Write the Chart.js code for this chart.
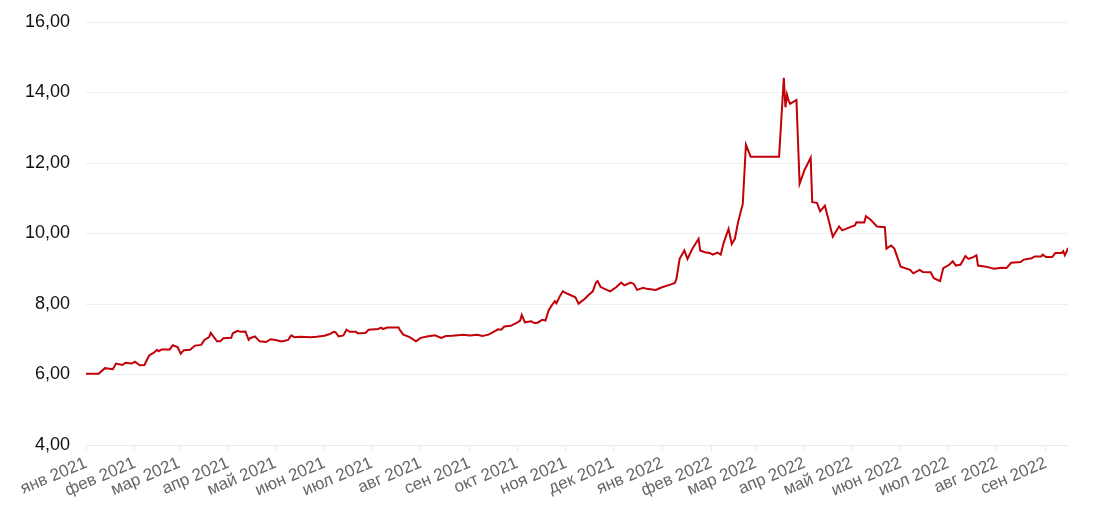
<!DOCTYPE html>
<html>
<head>
<meta charset="utf-8">
<script src="https://cdn.jsdelivr.net/npm/chart.js@4"></script>
<style>
  html, body { margin: 0; padding: 0; background: #fff; }
  #wrap { width: 1100px; height: 521px; }
</style>
</head>
<body>
<div id="wrap"><canvas id="price"></canvas></div>
<script>
// days counted from startDate
var startDate = Date.UTC(2021, 0, 1);
var dayOffsets = [0, 8, 12, 17, 19, 23, 25, 29, 31, 34, 37, 40, 43, 45, 46, 48, 53, 55, 58, 60,
  62, 66, 69, 73, 75, 78, 79, 81, 83, 85, 87, 92, 93, 96, 98, 101, 102, 103, 104, 107,
  110, 114, 117, 120, 124, 128, 130, 132, 136, 142, 146, 151, 154, 157, 158, 160, 163, 165, 167, 171,
  172, 177, 179, 185, 187, 188, 191, 198, 199, 201, 205, 209, 212, 216, 221, 225, 228, 232, 239, 243,
  248, 251, 255, 259, 261, 263, 265, 269, 273, 275, 276, 278, 282, 284, 286, 289, 291, 293, 295, 297,
  298, 300, 302, 305, 310, 312, 316, 318, 321, 323, 324, 326, 332, 336, 339, 341, 345, 347, 349, 353,
  355, 361, 364, 370, 373, 374, 376, 379, 381, 384, 388, 389, 392, 395, 397, 400, 402, 404, 407, 409,
  411, 413, 416, 418, 421, 431, 439, 442, 443, 444, 445, 446, 450, 452, 455, 459, 460, 463, 465, 468,
  470, 473, 477, 479, 484, 487, 488, 493, 494, 497, 501, 506, 507, 510, 512, 516, 522, 524, 528, 530,
  535, 537, 541, 543, 547, 549, 551, 554, 557, 559, 562, 564, 565, 570, 575, 580, 583, 586, 592, 594,
  599, 601, 605, 606, 608, 612, 614, 618, 619, 620, 621, 622];
var prices = [6.02, 6.02, 6.18, 6.15, 6.31, 6.27, 6.33, 6.31, 6.36, 6.26, 6.27, 6.54, 6.62, 6.70, 6.66, 6.71, 6.71, 6.83, 6.78, 6.59,
  6.69, 6.70, 6.82, 6.84, 6.98, 7.06, 7.18, 7.06, 6.94, 6.94, 7.03, 7.04, 7.17, 7.24, 7.21, 7.22, 7.10, 6.98, 7.03, 7.08,
  6.94, 6.92, 7.00, 6.98, 6.94, 6.98, 7.11, 7.06, 7.07, 7.06, 7.07, 7.10, 7.14, 7.21, 7.20, 7.08, 7.11, 7.27, 7.21, 7.21,
  7.17, 7.18, 7.27, 7.29, 7.33, 7.29, 7.33, 7.33, 7.25, 7.13, 7.06, 6.94, 7.04, 7.08, 7.11, 7.04, 7.09, 7.10, 7.13, 7.11,
  7.13, 7.09, 7.13, 7.23, 7.28, 7.27, 7.36, 7.38, 7.47, 7.53, 7.69, 7.48, 7.51, 7.46, 7.47, 7.55, 7.53, 7.82, 7.96, 8.08,
  8.02, 8.21, 8.36, 8.29, 8.19, 8.01, 8.15, 8.24, 8.36, 8.61, 8.65, 8.48, 8.36, 8.48, 8.61, 8.53, 8.61, 8.57, 8.40, 8.46,
  8.43, 8.40, 8.46, 8.55, 8.60, 8.72, 9.28, 9.52, 9.28, 9.56, 9.85, 9.52, 9.47, 9.45, 9.40, 9.46, 9.40, 9.75, 10.13, 9.70,
  9.85, 10.32, 10.84, 12.52, 12.18, 12.18, 12.18, 14.42, 13.58, 13.94, 13.77, 13.68, 13.79, 11.41, 11.79, 12.15, 10.89, 10.87, 10.63, 10.79,
  10.45, 9.91, 10.20, 10.09, 10.18, 10.23, 10.32, 10.31, 10.49, 10.39, 10.20, 10.18, 9.57, 9.66, 9.57, 9.06, 8.97, 8.87, 8.97, 8.91,
  8.90, 8.73, 8.65, 9.02, 9.12, 9.21, 9.09, 9.12, 9.36, 9.28, 9.33, 9.38, 9.09, 9.06, 9.00, 9.03, 9.02, 9.17, 9.19, 9.26,
  9.30, 9.35, 9.35, 9.40, 9.33, 9.33, 9.45, 9.45, 9.50, 9.38, 9.47, 9.59];
var monthNames = ['янв', 'фев', 'мар', 'апр', 'май', 'июн', 'июл', 'авг', 'сен', 'окт', 'ноя', 'дек'];
var yTicks = [4, 6, 8, 10, 12, 14, 16];

var DAY = 86400000;
var points = dayOffsets.map(function (d, i) { return { x: d, y: prices[i] }; });

function monthLabel(offset) {
  var dt = new Date(startDate + offset * DAY);
  return monthNames[dt.getUTCMonth()] + ' ' + dt.getUTCFullYear();
}

var ctx = document.getElementById('price').getContext('2d');
var priceChart = new Chart(ctx, {
  type: 'line',
  data: {
    datasets: [{
      data: points,
      borderColor: '#c20008',
      borderWidth: 2,
      pointRadius: 0,
      tension: 0,
      fill: false
    }]
  },
  options: {
    responsive: true,
    maintainAspectRatio: false,
    animation: false,
    layout: { padding: { top: 22, right: 32, left: 0, bottom: 0 } },
    plugins: { legend: { display: false }, tooltip: { enabled: false } },
    scales: {
      x: {
        type: 'linear',
        min: 0,
        max: dayOffsets[dayOffsets.length - 1],
        afterBuildTicks: function (scale) {
          var ticks = [];
          for (var y = 2021; y <= 2022; y++) {
            for (var m = 0; m < 12; m++) {
              var off = Math.round((Date.UTC(y, m, 1) - startDate) / DAY);
              if (off >= scale.min && off <= scale.max) ticks.push({ value: off });
            }
          }
          scale.ticks = ticks;
        },
        afterFit: function (scale) { scale.height = 76; scale.paddingRight = 0; },
        ticks: {
          autoSkip: false,
          minRotation: 23,
          maxRotation: 23,
          padding: 2,
          color: '#666',
          font: { family: 'Liberation Sans', size: 17 },
          callback: function (value) { return monthLabel(value); }
        },
        grid: { drawOnChartArea: false, drawTicks: true, tickLength: 6, color: '#eaeaea' },
        border: { color: '#eaeaea' }
      },
      y: {
        min: 4,
        max: 16,
        afterBuildTicks: function (scale) {
          scale.ticks = yTicks.map(function (v) { return { value: v }; });
        },
        afterFit: function (scale) {
          scale.width = 86;
          scale.paddingTop = 0;
          scale.paddingBottom = 0;
        },
        ticks: {
          padding: 16,
          color: '#111',
          font: { family: 'Liberation Sans', size: 18 },
          callback: function (value) { return value.toFixed(2).replace('.', ','); }
        },
        grid: { drawTicks: false, color: '#eeeeee' },
        border: { display: false }
      }
    }
  }
});
</script>
</body>
</html>
